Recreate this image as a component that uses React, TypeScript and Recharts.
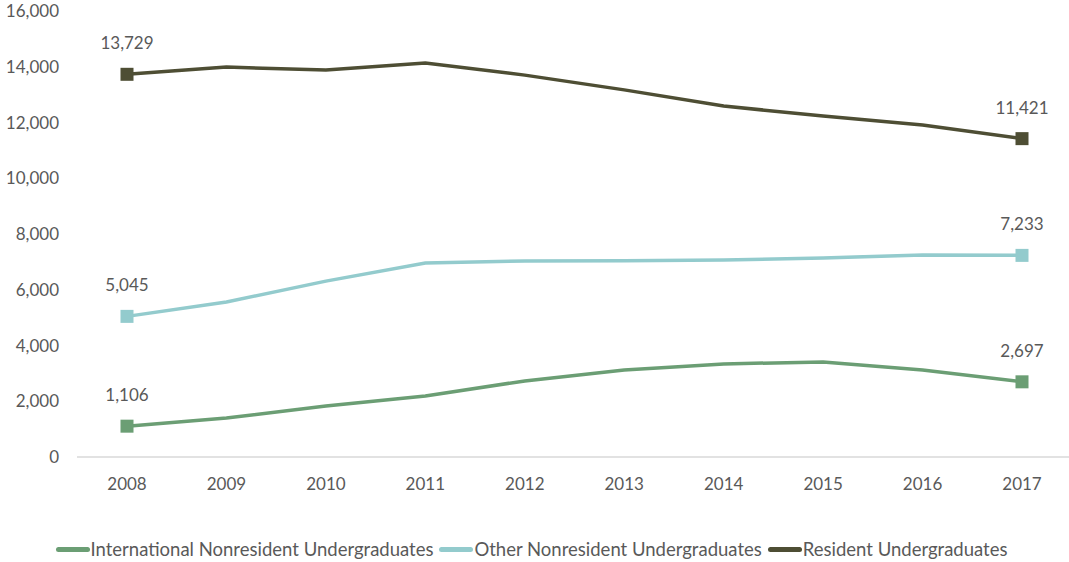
import React from "react";
import { LineChart, Line, XAxis, YAxis } from "recharts";

const years = ["2008", "2009", "2010", "2011", "2012", "2013", "2014", "2015", "2016", "2017"];
const international = [1106, 1400, 1830, 2190, 2730, 3120, 3340, 3410, 3120, 2697];
const otherNonres = [5045, 5560, 6310, 6960, 7030, 7040, 7070, 7140, 7250, 7233];
const resident = [13729, 13990, 13880, 14130, 13700, 13170, 12590, 12230, 11910, 11421];
const yTicks = [0, 2000, 4000, 6000, 8000, 10000, 12000, 14000, 16000];

const series = [
  { key: "international", name: "International Nonresident Undergraduates", color: "#6b9e74" },
  { key: "other", name: "Other Nonresident Undergraduates", color: "#93cbcd" },
  { key: "resident", name: "Resident Undergraduates", color: "#4e4e34" },
];

const data = years.map((y, i) => ({
  year: y,
  international: international[i],
  other: otherNonres[i],
  resident: resident[i],
}));

const FONT = "Lato, 'Open Sans', sans-serif";
const TEXT = "#595959";
const last = years.length - 1;

const makeDot = (color: string) => (props: any) => {
  const { cx, cy, index } = props;
  if (index !== 0 && index !== last) return <g key={`d${index}`} />;
  return <rect key={`d${index}`} x={cx - 6.5} y={cy - 6.5} width={13} height={13} fill={color} />;
};

const makeLabel = () => (props: any) => {
  const { x, y, value, index } = props;
  if (index !== 0 && index !== last) return null;
  return (
    <text x={x} y={y - 25} textAnchor="middle" fontFamily={FONT} fontSize={17} fill={TEXT}>
      {Number(value).toLocaleString("en-US")}
    </text>
  );
};

export default function App() {
  return (
    <div style={{ position: "absolute", left: 0, top: 0, width: 1069, height: 562, background: "#fff", overflow: "hidden" }}>
      <LineChart width={1072} height={500} data={data} margin={{ top: 11, right: 0, bottom: 0, left: 0 }}>
        <XAxis
          dataKey="year"
          axisLine={{ stroke: "#d9d9d9", strokeWidth: 1.5 }}
          tickLine={false}
          padding={{ left: 50, right: 50 }}
          tick={{ fill: TEXT, fontFamily: FONT, fontSize: 17 }}
          tickMargin={15}
          height={43}
        />
        <YAxis
          domain={[0, 16000]}
          ticks={yTicks}
          axisLine={false}
          tickLine={false}
          width={77}
          tickMargin={8}
          tick={{ fill: TEXT, fontFamily: FONT, fontSize: 17, dx: -4 }}
          tickFormatter={(v: number) => v.toLocaleString("en-US")}
          interval={0}
        />
        {series.map((s) => (
          <Line
            key={s.key}
            type="linear"
            dataKey={s.key}
            name={s.name}
            stroke={s.color}
            strokeWidth={3.5}
            dot={makeDot(s.color)}
            activeDot={false}
            isAnimationActive={false}
            label={makeLabel()}
          />
        ))}
      </LineChart>
      <div
        style={{
          position: "absolute",
          top: 538,
          left: 0,
          width: 1069,
          display: "flex",
          justifyContent: "center",
          fontFamily: FONT,
          fontSize: 18.5,
          color: TEXT,
          whiteSpace: "nowrap",
        }}
      >
        {series.map((s) => (
          <span key={s.key} style={{ display: "inline-flex", alignItems: "center", marginRight: 6 }}>
            <span style={{ display: "inline-block", width: 34, height: 5, background: s.color, marginRight: 1, borderRadius: 2.5 }} />
            {s.name}
          </span>
        ))}
      </div>
    </div>
  );
}
